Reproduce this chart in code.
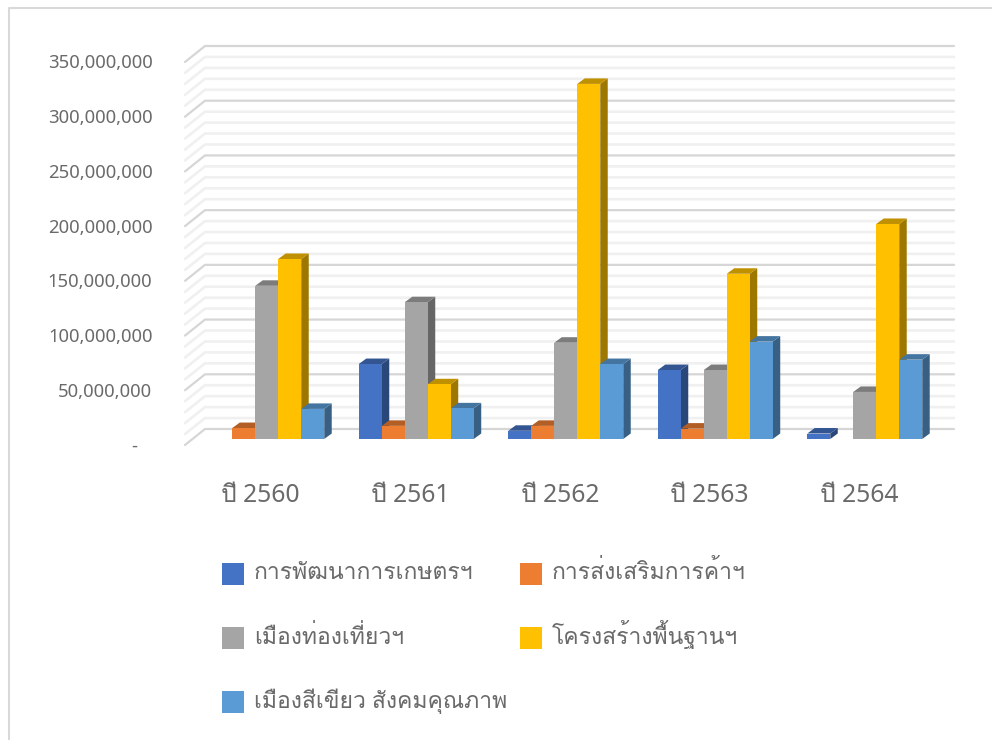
import matplotlib
matplotlib.use("Agg")
import matplotlib.pyplot as plt
from matplotlib.lines import Line2D
from matplotlib.patches import Polygon
from matplotlib.transforms import IdentityTransform, ScaledTranslation
import numpy as np, pandas as pd, seaborn as sns

years = ["ปี 2560", "ปี 2561", "ปี 2562", "ปี 2563", "ปี 2564"]
series = ["การพัฒนาการเกษตรฯ", "การส่งเสริมการค้าฯ", "เมืองท่องเที่ยวฯ", "โครงสร้างพื้นฐานฯ", "เมืองสีเขียว สังคมคุณภาพ"]
agri = [0, 68500000, 7500000, 63000000, 5000000]
trade = [10000000, 12000000, 12000000, 9500000, 0]
tourism = [140000000, 125000000, 88000000, 63000000, 43000000]
infra = [164500000, 50000000, 324500000, 151000000, 196500000]
green = [27500000, 28000000, 68500000, 89000000, 72500000]
colors = ["#4472C4", "#ED7D31", "#A5A5A5", "#FFC000", "#5B9BD5"]

sns.set_theme(style="white")
plt.rcParams["font.family"] = ["Noto Sans", "Loma", "DejaVu Sans"]
W, H = 992, 740
fig = plt.figure(figsize=(W/100, H/100), dpi=100)
ax = fig.add_axes([192/W, 1-439/H, 747.5/W, 383/H])
df = pd.DataFrame({"year": np.repeat(years, 5),
                   "series": series*5,
                   "value": np.array([agri, trade, tourism, infra, green]).T.ravel()})
sns.barplot(data=df, x="year", y="value", hue="series", hue_order=series, palette=colors,
            width=0.769, gap=0, saturation=1, ax=ax, legend=False, errorbar=None)
ax.set_xlim(-0.5, 4.5); ax.set_ylim(0, 350000000)
ax.set_xlabel(""); ax.set_ylabel("")
sns.despine(ax=ax, left=True, bottom=True)
ax.patch.set_alpha(0)
fig.canvas.draw()

def px(x, v, dx, dy):
    a, b = ax.transData.transform((x, v))
    return (a+dx, b+dy)

x0, x1 = ax.get_xlim()
ticks = np.arange(0, 350000001, 10000000)
for v in ticks:
    major = v % 50000000 == 0
    c, lw = ("#d6d6d6", 1.6) if major else ("#f0f0f0", 1.9)
    z = 0.6 if major else 0.5
    pts = [px(x0, v, -7, -6), px(x0, v, 13, 10), px(x1, v, 14.5, 10)]
    ax.add_line(Line2D(*zip(*pts), color=c, lw=lw, transform=IdentityTransform(), clip_on=False, zorder=z))

DX, DY = 7.5, 5.5
def shade(c, k):
    return tuple(k*i for i in matplotlib.colors.to_rgb(c))
for p in ax.patches:
    h = p.get_height()
    if not h or np.isnan(h):
        p.set_visible(False); continue
    l, r = p.get_x(), p.get_x()+p.get_width()
    z = 3 + l
    col = p.get_facecolor()
    p.set_edgecolor("none"); p.set_zorder(z+0.02)
    top = [px(l, h, 0, 0), px(r, h, 0, 0), px(r, h, DX, DY), px(l, h, DX, DY)]
    side = [px(r, 0, 0, 0), px(r, h, 0, 0), px(r, h, DX, DY), px(r, 0, DX, DY)]
    ax.add_patch(Polygon(top, closed=True, fc=shade(col, .75), ec="none", transform=IdentityTransform(), clip_on=False, zorder=z+0.01))
    ax.add_patch(Polygon(side, closed=True, fc=shade(col, .62), ec="none", transform=IdentityTransform(), clip_on=False, zorder=z))

ax.set_yticks(np.arange(0, 350000001, 50000000))
ax.set_yticklabels(["-   "] + [f"{v:,}" for v in range(50000000, 350000001, 50000000)])
ax.tick_params(axis="y", length=0, pad=28.5, labelsize=13.3, labelcolor="#6a6a6a")
ax.tick_params(axis="x", length=0, pad=32, labelsize=17.8, labelcolor="#6a6a6a")
off = ScaledTranslation(0, -5.5/100, fig.dpi_scale_trans)
for t in ax.get_yticklabels():
    t.set_transform(t.get_transform()+off)
offx = ScaledTranslation(-6/100, 0, fig.dpi_scale_trans)
for t in ax.get_xticklabels():
    t.set_transform(t.get_transform()+offx)

fs = 16.5
fpx = fs*100/72
handles = [Line2D([], [], ls="none", marker="s", ms=23*0.72, mew=0, mfc=c) for c in colors]
order = [0, 2, 4, 1, 3]
probe = fig.text(0, 0, series[4], fontsize=fs)
wmax = probe.get_window_extent(fig.canvas.get_renderer()).width
probe.remove()
pad = 10
box = 44
spacing = (298-23-pad-wmax)/fpx
leg = fig.legend([handles[i] for i in order], [series[i] for i in order], ncol=2, numpoints=1,
           loc="upper left", bbox_to_anchor=(221/W, 1-(577-box/2)/H), frameon=False, fontsize=fs,
           borderpad=0, borderaxespad=0, handlelength=23/fpx, handleheight=box/fpx,
           handletextpad=pad/fpx, columnspacing=spacing, labelspacing=30/fpx, labelcolor="#6a6a6a")
for hd in leg.legend_handles:
    hd.set_ydata(np.asarray(hd.get_ydata()) - 4.7)

fig.add_artist(Line2D([9/W, 9/W, 1], [0, 1-8/H, 1-8/H], color="#d9d9d9", lw=1.5, transform=fig.transFigure))
fig.savefig("out.png", dpi=100)
